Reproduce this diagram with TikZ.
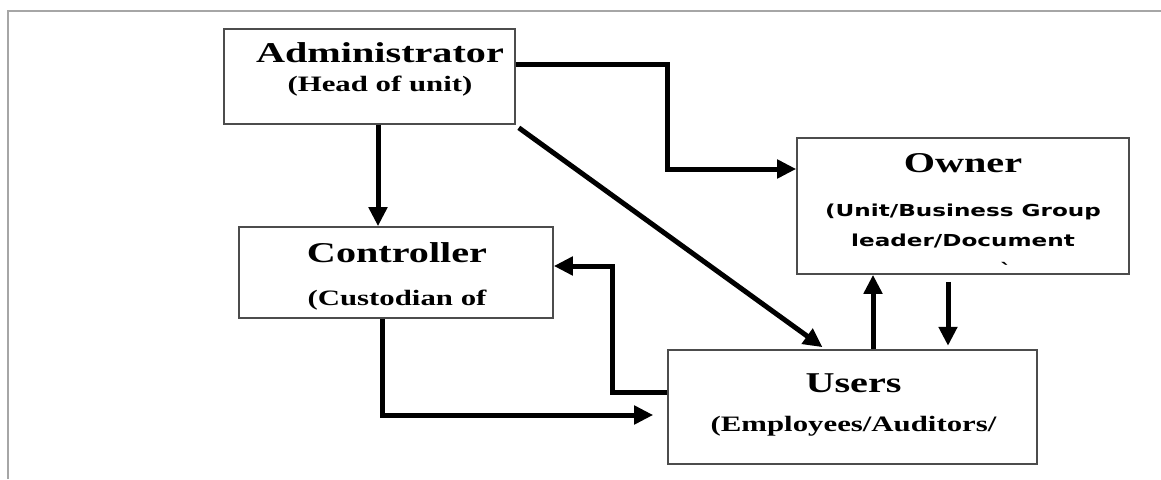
\documentclass[tikz,border=0pt]{standalone}
\usepackage{fontspec}
\setmainfont{Liberation Serif}[FakeStretch=1.4]
\newfontfamily\ownerfont{DejaVu Sans}[FakeStretch=1.4]
\usetikzlibrary{arrows.meta}

\tikzset{
  rolebox/.style={draw=black!70, line width=1.6pt, minimum width=#1, inner sep=0pt},
  roletitle/.style={anchor=base, inner sep=0pt, font=\fontsize{28.7}{30}\selectfont\bfseries},
  rolesub/.style={anchor=base, inner sep=0pt, font=\fontsize{22}{26}\selectfont\bfseries},
  flow/.style={line width=5pt, -{Triangle[length=19pt,width=18pt]}},
}

\begin{document}
\begin{tikzpicture}[x=1pt, y=-1pt]
\useasboundingbox (0,0) rectangle (1161,479);
% page frame:
\draw[black!35, line width=1.5pt] (8,479) -- (8,11) -- (1161,11);
% boxes:
\node[rolebox=291pt, minimum height=95pt] (admin) at (369.5,76.5) {};
\node[rolebox=332pt, minimum height=136pt] (owner) at (963,206) {};
\node[rolebox=314pt, minimum height=91pt] (ctrl) at (396,272.5) {};
\node[rolebox=369pt, minimum height=114pt] (users) at (852.5,407) {};
% texts:
\node[roletitle] (admintitle) at ([xshift=10.5pt,yshift=-34pt]admin.north) {Administrator};
\node[rolesub] (adminsub) at ([xshift=10.5pt,yshift=-63pt]admin.north) {(Head of unit)};
\node[roletitle] (ownertitle) at ([yshift=-35pt]owner.north) {Owner};
\node[anchor=base, inner sep=0pt, align=center, font=\ownerfont\fontsize{16.5}{30}\selectfont\bfseries]
  (ownersub) at ([yshift=-109pt]owner.north) {(Unit/Business Group\\leader/Document};
\node[anchor=base, inner sep=0pt, font=\ownerfont\fontsize{16.5}{30}\selectfont\bfseries]
  (ownercut) at ([xshift=43pt,yshift=-138pt]owner.north) {`};
\node[roletitle] (ctrltitle) at ([xshift=1pt,yshift=-36pt]ctrl.north) {Controller};
\node[rolesub] (ctrlsub) at ([xshift=1pt,yshift=-79pt]ctrl.north) {(Custodian of};
\node[roletitle] (userstitle) at ([xshift=1pt,yshift=-43pt]users.north) {Users};
\node[rolesub] (userssub) at ([xshift=1pt,yshift=-82pt]users.north) {(Employees/Auditors/};
% connectors:
\draw[flow] ([yshift=12.5pt]admin.east) -| ([xshift=-129pt,yshift=37pt]owner.west) -- ([yshift=37pt]owner.west);
\draw[flow] ([xshift=8.5pt]admin.south) -- ([xshift=8.5pt]admin.south |- ctrl.north);
\draw[flow] ([xshift=3pt,yshift=-3pt]admin.south east) -- ([xshift=-30pt,yshift=2pt]users.north);
\draw[flow] ([yshift=15pt]users.west) -| ([xshift=59pt,yshift=6.5pt]ctrl.east) -- ([yshift=6.5pt]ctrl.east);
\draw[flow] ([xshift=-14pt]ctrl.south) |- ([xshift=-14pt,yshift=-8pt]users.west);
\draw[flow] ([xshift=20.5pt]users.north) -- ([xshift=20.5pt]users.north |- owner.south);
\draw[flow] ([xshift=-15pt,yshift=-7pt]owner.south) -- ++(0,64);
\end{tikzpicture}
\end{document}
